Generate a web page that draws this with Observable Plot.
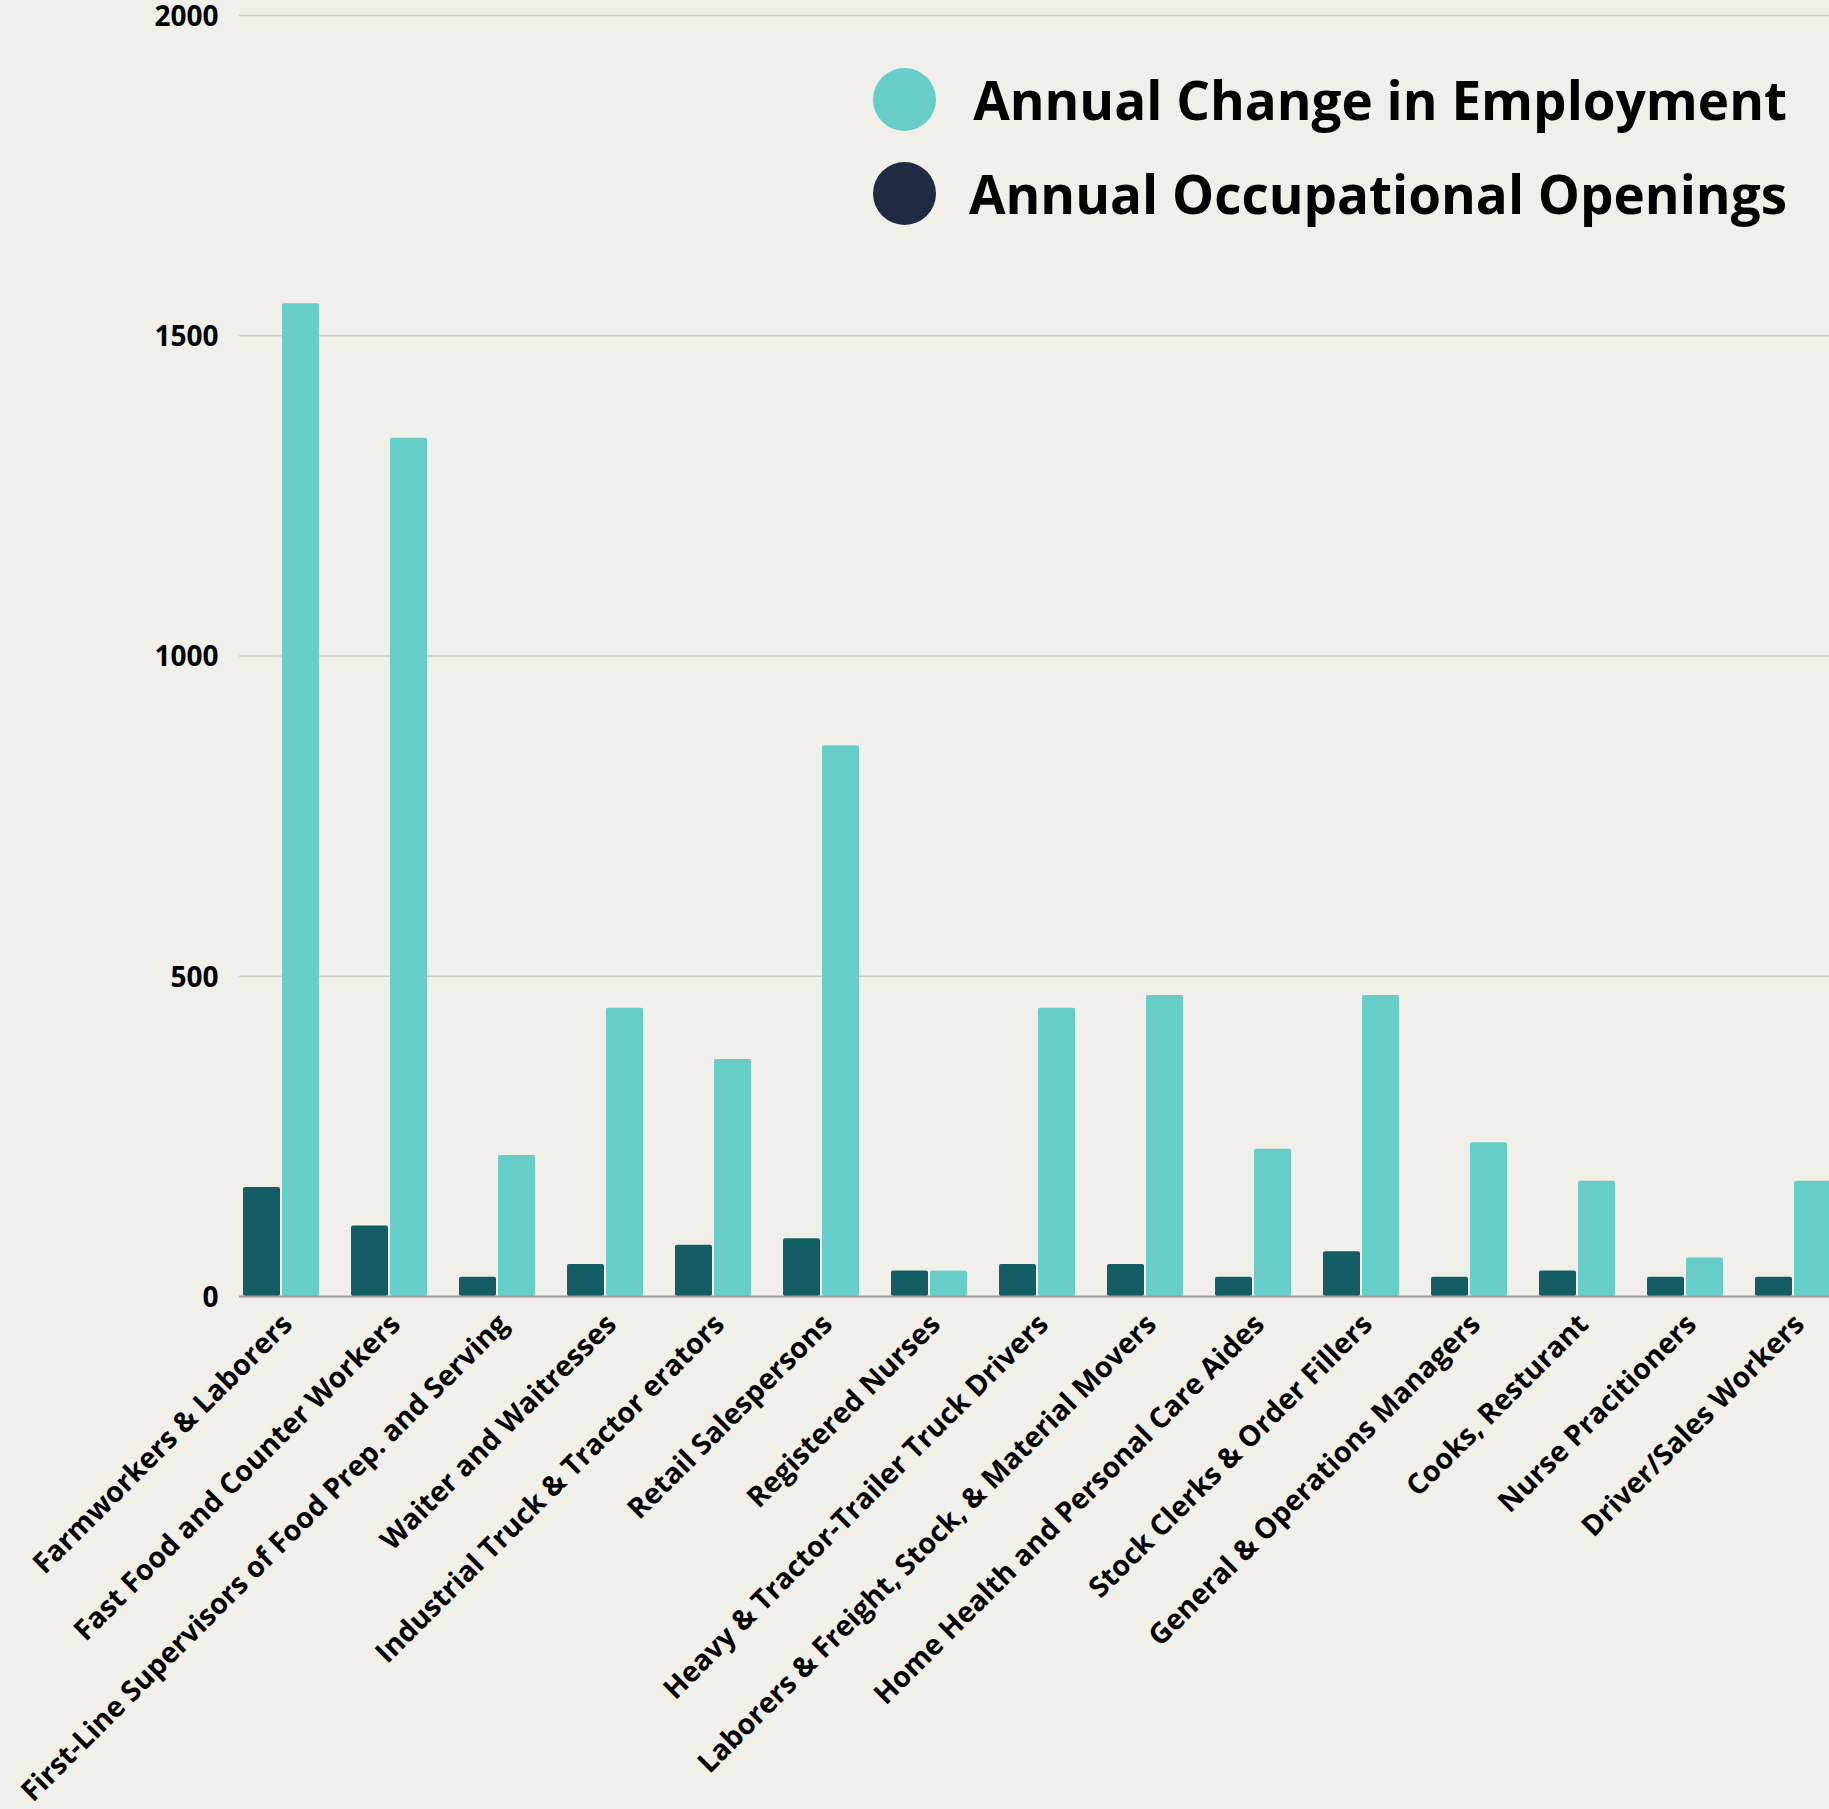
<!DOCTYPE html>
<html>
<head>
<meta charset="utf-8">
<script src="https://cdn.jsdelivr.net/npm/d3@7"></script>
<script src="https://cdn.jsdelivr.net/npm/@observablehq/plot@0.6"></script>
<style>
  html, body { margin: 0; padding: 0; background: #f1f0e8; overflow: hidden; }
  #wrap { position: relative; width: 1829px; height: 1809px; }
  #legend {
    position: absolute; right: 42px; top: 53px;
    display: grid; grid-template-columns: 63px auto; column-gap: 33px;
    grid-auto-rows: 93.5px; align-items: center;
    font-family: "Open Sans", sans-serif; font-weight: 700; font-size: 53px; color: #000;
  }
  #legend .dot { width: 63px; height: 63px; border-radius: 50%; }
  #legend .lab { text-align: right; white-space: nowrap; line-height: 93.5px; }
</style>
</head>
<body>
<div id="wrap">
  <div id="chart"></div>
  <div id="legend"></div>
</div>
<script>
const categories = [
  "Farmworkers & Laborers",
  "Fast Food and Counter Workers",
  "First-Line Supervisors of Food Prep. and Serving",
  "Waiter and Waitresses",
  "Industrial Truck & Tractor erators",
  "Retail Salespersons",
  "Registered Nurses",
  "Heavy & Tractor-Trailer Truck Drivers",
  "Laborers & Freight, Stock, & Material Movers",
  "Home Health and Personal Care Aides",
  "Stock Clerks & Order Fillers",
  "General & Operations Managers",
  "Cooks, Resturant",
  "Nurse Pracitioners",
  "Driver/Sales Workers"
];
const annualOpenings = [170, 110, 30, 50, 80, 90, 40, 50, 50, 30, 70, 30, 40, 30, 30];
const annualChange = [1550, 1340, 220, 450, 370, 860, 40, 450, 470, 230, 470, 240, 180, 60, 180];
const yTicks = [0, 500, 1000, 1500, 2000];
const seriesNames = ["Annual Change in Employment", "Annual Occupational Openings"];
const seriesColors = ["#66cdc9", "#1f2a44"];
const barColors = { openings: "#135e66", change: "#66cdc9" };

const data = categories.map((c, i) => ({ category: c, openings: annualOpenings[i], change: annualChange[i] }));

const hasAxisMarks = typeof Plot.axisX === "function";

const marks = [
  Plot.ruleY(yTicks.filter(d => d > 0), { stroke: "#cfcdc4", strokeWidth: 1.5 }),
  Plot.barY(data, { x: "category", y: "openings", fill: barColors.openings, insetRight: 39, rx: 2 }),
  Plot.barY(data, { x: "category", y: "change", fill: barColors.change, insetLeft: 39, rx: 2 }),
  Plot.ruleY([0], { stroke: "#9a9a96", strokeWidth: 2 })
];
if (hasAxisMarks) {
  marks.push(
    Plot.axisX({ tickSize: 0, tickRotate: -45, tickPadding: 23, dx: 6, fontSize: 28.5, fontWeight: 700 }),
    Plot.axisY({ ticks: yTicks, tickFormat: d => String(d), tickSize: 0, tickPadding: 21, dy: 1.5, fontSize: 28, fontWeight: 700 })
  );
}

const chart = Plot.plot({
  width: 1829,
  height: 1809,
  marginLeft: 239,
  marginRight: -6,
  marginTop: 15,
  marginBottom: 513,
  style: { background: "transparent", fontFamily: "'Open Sans', sans-serif", fontWeight: 700, fontSize: "28px", color: "#000", overflow: "visible" },
  x: { domain: categories, paddingInner: 0.3, paddingOuter: 0, label: null, tickSize: 0, tickRotate: -45, tickPadding: 23, ...(hasAxisMarks ? {axis: null} : {}) },
  y: { domain: [0, 2000], label: null, ticks: yTicks, tickFormat: d => String(d), tickSize: 0, tickPadding: 21, ...(hasAxisMarks ? {axis: null} : {}) },
  marks
});
document.getElementById("chart").appendChild(chart);

const legend = document.getElementById("legend");
seriesNames.forEach((name, i) => {
  const dot = document.createElement("div");
  dot.className = "dot";
  dot.style.background = seriesColors[i];
  const lab = document.createElement("div");
  lab.className = "lab";
  lab.textContent = name;
  legend.appendChild(dot);
  legend.appendChild(lab);
});
</script>
</body>
</html>
